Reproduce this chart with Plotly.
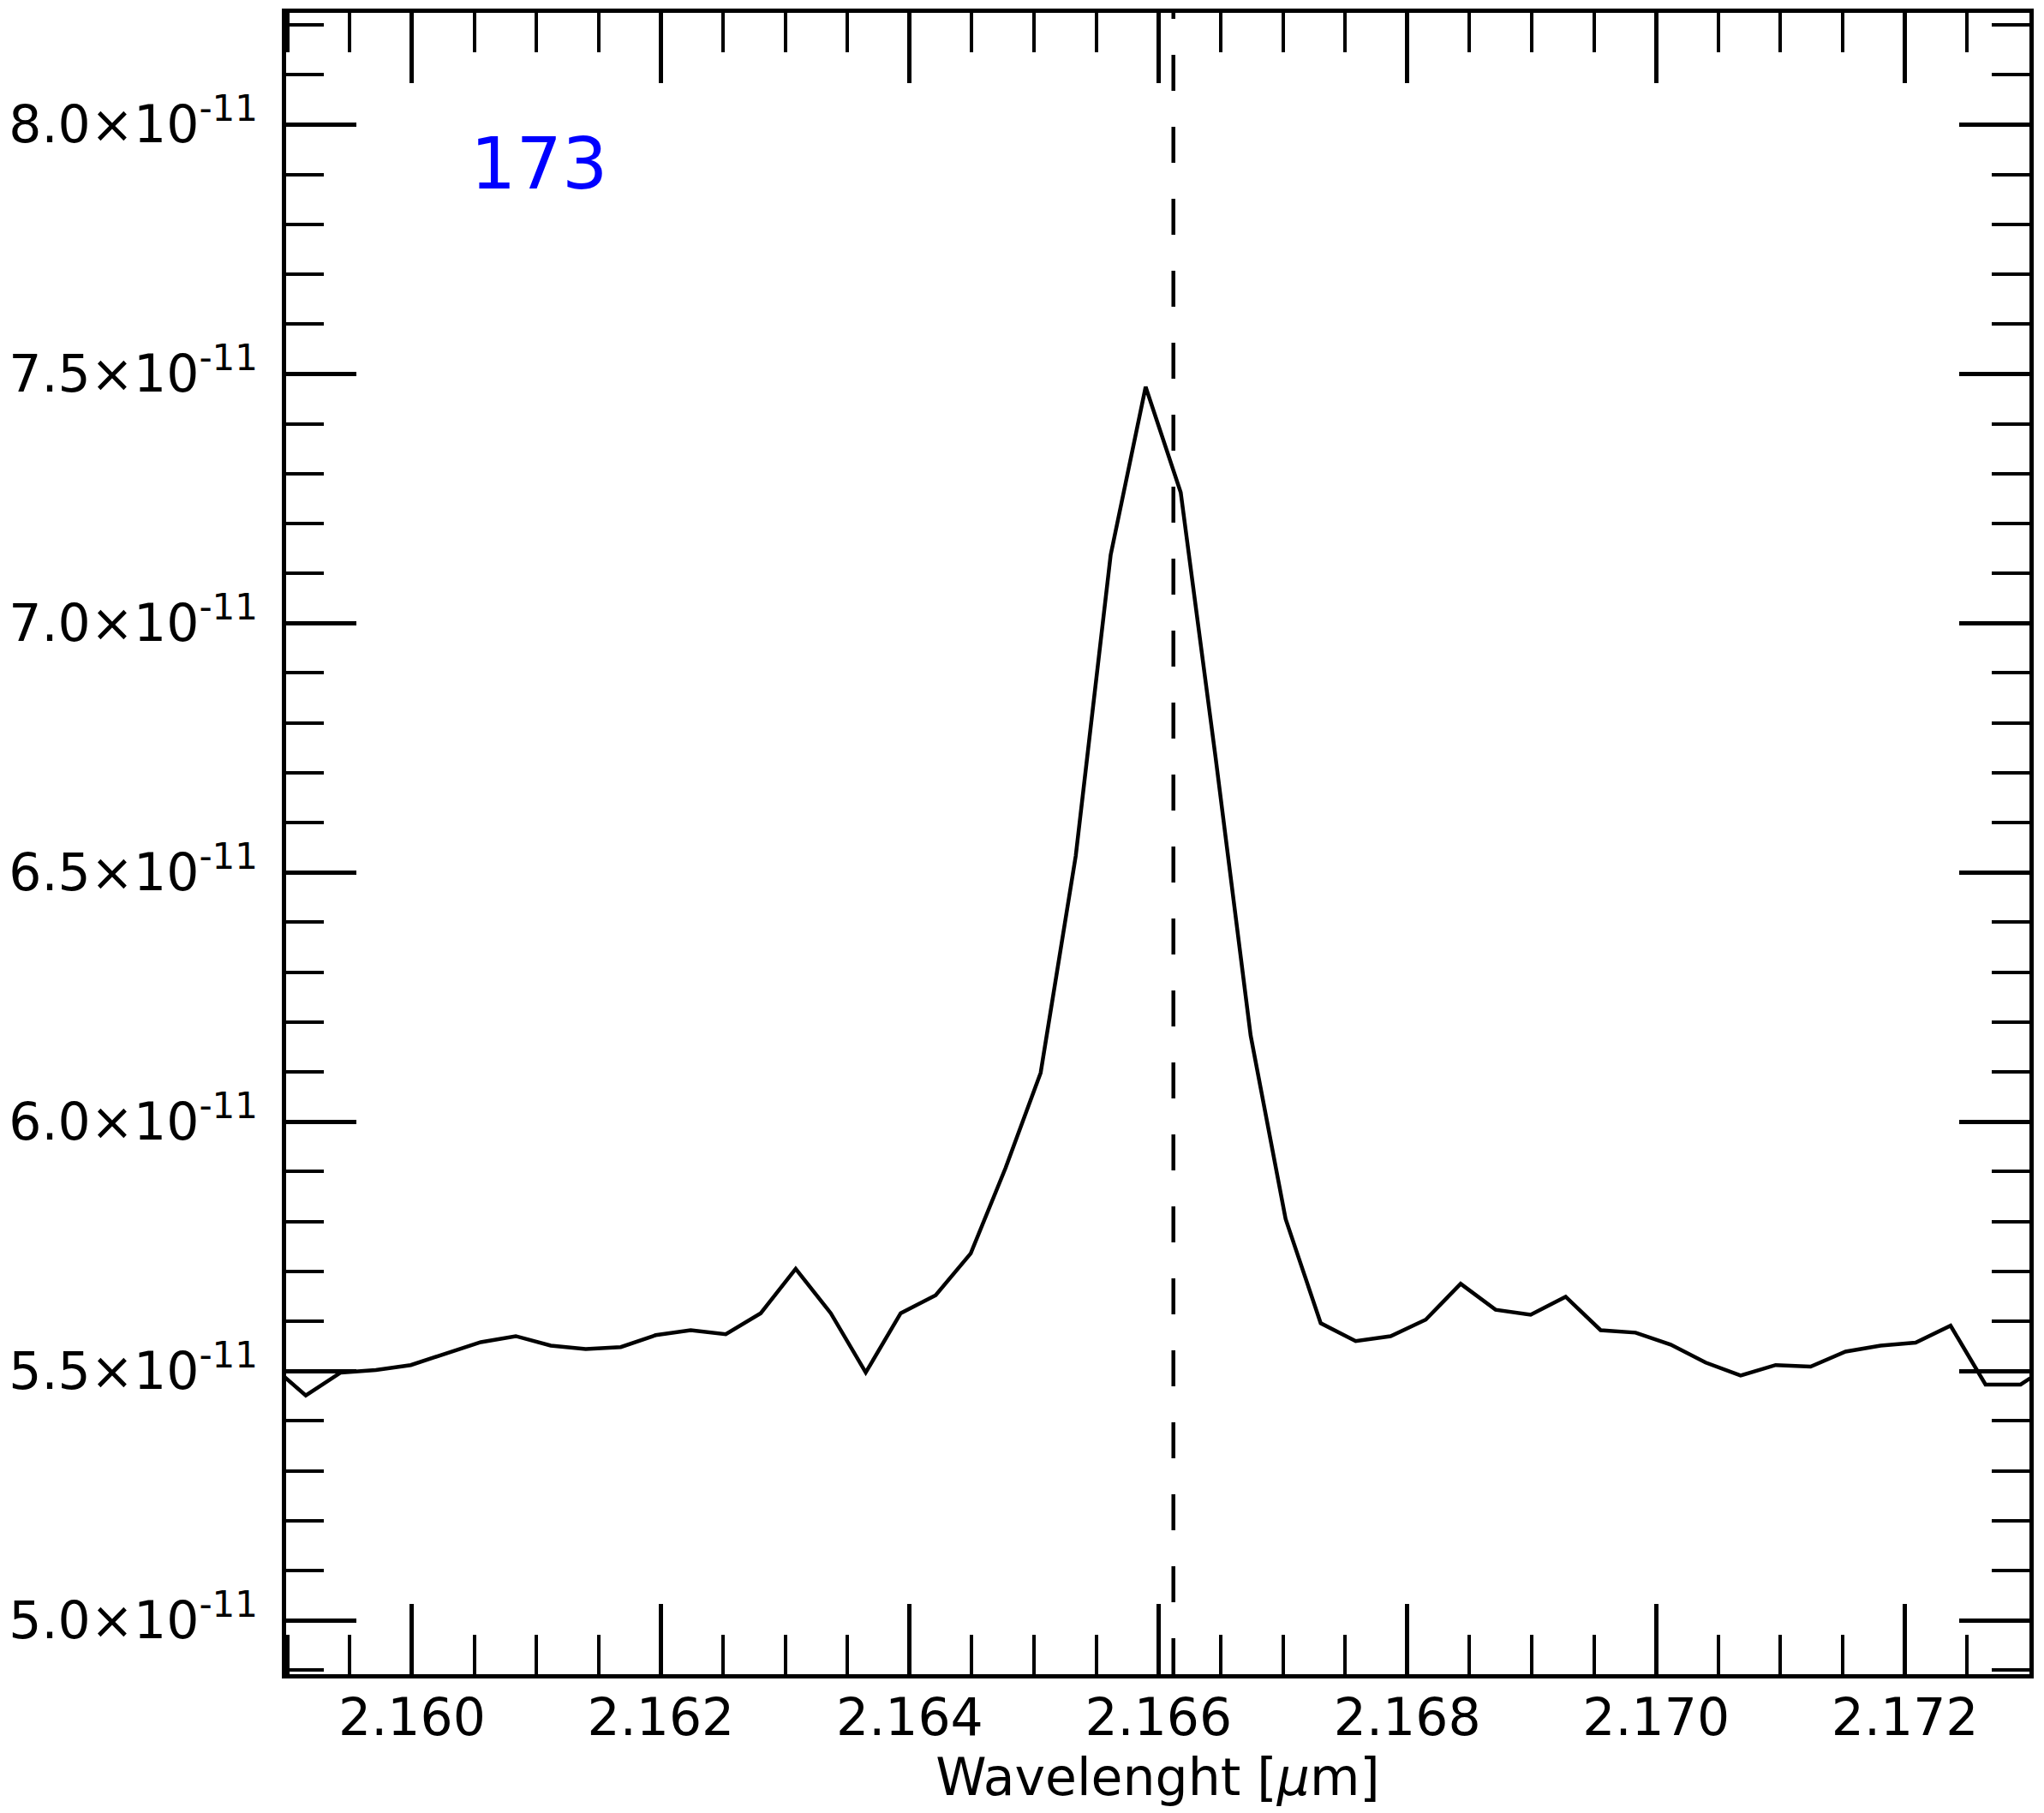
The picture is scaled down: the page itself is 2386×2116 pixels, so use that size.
import plotly.graph_objects as go

# spectrum (wavelength in micron, flux)
wavelength = [2.158865, 2.159146, 2.159427, 2.159709, 2.159990, 2.160271, 2.160553, 2.160834,
              2.161115, 2.161396, 2.161678, 2.161959, 2.162240, 2.162522, 2.162803, 2.163084,
              2.163366, 2.163647, 2.163928, 2.164209, 2.164491, 2.164772, 2.165053, 2.165335,
              2.165616, 2.165897, 2.166179, 2.166460, 2.166741, 2.167022, 2.167304, 2.167585,
              2.167866, 2.168148, 2.168429, 2.168710, 2.168992, 2.169273, 2.169554, 2.169835,
              2.170117, 2.170398, 2.170679, 2.170961, 2.171242, 2.171523, 2.171805, 2.172086,
              2.172367, 2.172648, 2.172930, 2.173211]
flux = [5.512, 5.451, 5.497, 5.502, 5.512, 5.534, 5.558, 5.570,
        5.551, 5.544, 5.548, 5.572, 5.582, 5.574, 5.616, 5.705,
        5.616, 5.497, 5.616, 5.652, 5.736, 5.908, 6.098, 6.533,
        7.137, 7.474, 7.262, 6.729, 6.173, 5.805, 5.596, 5.560,
        5.570, 5.603, 5.675, 5.623, 5.613, 5.649, 5.582, 5.577,
        5.553, 5.517, 5.491, 5.512, 5.509, 5.539, 5.551, 5.557,
        5.591, 5.473, 5.473, 5.519]
flux = [f * 1e-11 for f in flux]

line_center = 2.16612  # Br gamma
label = '173'

x_ticks = [2.160, 2.162, 2.164, 2.166, 2.168, 2.170, 2.172]
x_ticktext = ['2.160', '2.162', '2.164', '2.166', '2.168', '2.170', '2.172']
y_ticks = [5.0e-11, 5.5e-11, 6.0e-11, 6.5e-11, 7.0e-11, 7.5e-11, 8.0e-11]
y_ticktext = ['5.0×10<sup>-11</sup>', '5.5×10<sup>-11</sup>', '6.0×10<sup>-11</sup>',
              '6.5×10<sup>-11</sup>', '7.0×10<sup>-11</sup>', '7.5×10<sup>-11</sup>',
              '8.0×10<sup>-11</sup>']

fig = go.Figure()
fig.add_trace(go.Scatter(x=wavelength, y=flux, mode='lines',
                         line=dict(color='black', width=4.5), showlegend=False))

fig.add_shape(type='line', xref='x', yref='paper', x0=line_center, x1=line_center,
              y0=0, y1=1, line=dict(color='black', width=4.5, dash='42px,42px'))

fig.add_annotation(text=label, xref='paper', yref='paper', x=0.1045, y=0.909,
                   xanchor='left', yanchor='middle', showarrow=False,
                   font=dict(size=84, color='#0000ff', family='DejaVu Sans'))

axis_common = dict(showline=True, linewidth=5, linecolor='black', mirror='allticks',
                   ticks='inside', ticklen=82, tickwidth=4.5, tickcolor='black',
                   showgrid=False, zeroline=False, automargin=False,
                   tickfont=dict(size=60, family='DejaVu Sans', color='black'))

fig.update_xaxes(range=[2.158988, 2.173001], tickvals=x_ticks, ticktext=x_ticktext,
                 minor=dict(ticks='inside', ticklen=46, tickwidth=4, tickcolor='black',
                            dtick=0.0005, tick0=2.160),
                 title=dict(text='Wavelenght [<i>μ</i>m]', standoff=0,
                            font=dict(size=60, family='DejaVu Sans', color='black')),
                 ticklabelstandoff=-6,
                 **axis_common)
fig.update_yaxes(range=[4.892e-11, 8.224e-11], tickvals=y_ticks, ticktext=y_ticktext,
                 minor=dict(ticks='inside', ticklen=44, tickwidth=4, tickcolor='black',
                            dtick=0.1e-11, tick0=5.0e-11),
                 ticklabelstandoff=16,
                 **axis_common)

fig.update_layout(width=2386, height=2116, plot_bgcolor='white', paper_bgcolor='white',
                  margin=dict(l=326, r=25, t=7, b=170),
                  font=dict(family='DejaVu Sans', color='black'))

fig.write_html('out.html')
